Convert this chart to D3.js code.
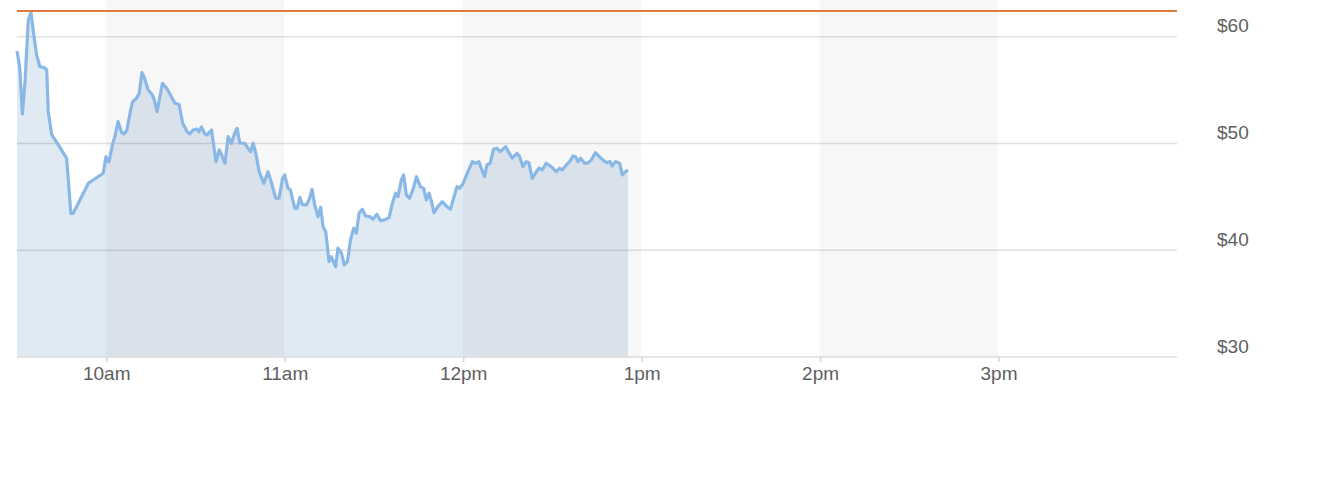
<!DOCTYPE html>
<html>
<head>
<meta charset="utf-8">
<script src="https://cdn.jsdelivr.net/npm/d3@7"></script>
<style>
  html, body { margin: 0; padding: 0; background: #fff; }
  svg { display: block; font-family: "Liberation Sans", Arial, Helvetica, sans-serif; }
</style>
</head>
<body>
<svg id="chart" width="1337" height="496"></svg>
<script>
// ---- data ----
// minutes after the 9:30 open
const minutes = [0,0.9,1.8,2.7,3.8,4.7,5.5,6.6,7.7,9.2,10.0,10.5,11.7,13.9,16.7,18.1,18.9,24.0,29.0,29.9,30.9,32.2,32.9,34.0,35.2,35.9,36.9,38.2,38.9,40.2,41.1,42.0,42.7,44.1,45.3,46.0,47.1,48.9,50.3,51.6,53.1,54.5,55.7,57.2,58.1,59.2,60.4,61.2,62.0,63.2,63.9,65.4,66.9,68.0,68.8,69.9,71.0,72.1,73.2,74.0,74.9,76.6,77.7,78.5,79.4,80.3,81.4,83.0,84.4,85.6,87.0,88.1,89.3,90.0,91.1,91.9,93.4,94.2,95.1,96.0,97.3,98.3,99.2,100.1,101.2,102.1,102.9,103.8,104.9,105.7,107.1,107.9,109.1,110.0,111.1,112.1,113.2,114.1,115.0,116.1,117.2,118.6,119.7,121.0,122.2,123.6,125.1,126.2,127.3,128.1,129.2,130.0,130.9,132.0,133.1,134.3,135.6,136.7,137.6,138.5,139.3,140.2,141.5,143.0,144.3,145.7,146.8,147.9,148.8,149.9,151.6,153.1,154.2,155.3,156.1,157.2,158.0,159.1,160.2,161.3,162.5,164.3,165.4,166.5,168.1,169.0,170.1,171.2,172.1,173.2,174.3,175.5,176.6,177.9,179.6,181.3,182.4,183.3,184.7,185.8,186.9,187.8,188.6,189.5,190.8,191.9,193.1,194.5,195.8,197.2,198.3,199.4,200.1,201.2,202.6,203.5,204.6,205.4];
const prices = [58.66,57.19,52.76,55.79,61.56,62.28,60.47,58.29,57.19,57.10,56.88,52.98,50.80,49.86,48.61,43.46,43.46,46.27,47.21,48.76,48.27,50.02,50.64,52.04,51.01,50.89,51.20,53.14,53.91,54.23,54.70,56.63,56.25,55.01,54.63,54.23,52.98,55.64,55.17,54.54,53.76,53.65,51.89,51.10,50.89,51.26,51.36,51.10,51.54,50.89,50.80,51.26,48.30,49.39,48.92,48.15,50.64,50.02,50.96,51.42,50.02,50.02,49.55,49.23,50.02,49.08,47.36,46.27,47.36,46.27,44.87,44.87,46.74,47.05,45.81,45.65,43.93,43.93,44.94,44.24,44.24,44.80,45.71,44.24,43.15,44.03,42.21,41.74,38.93,39.40,38.46,40.19,39.72,38.62,38.93,40.96,42.06,41.59,43.46,43.84,43.21,43.15,42.90,43.37,42.77,42.84,43.05,44.40,45.34,45.02,46.58,47.05,45.18,44.87,45.65,46.89,45.96,45.81,44.71,45.34,44.64,43.52,44.08,44.55,44.15,43.84,44.87,45.96,45.81,46.21,47.36,48.30,48.15,48.30,47.68,46.89,47.99,48.15,49.46,49.55,49.23,49.70,49.14,48.64,49.08,48.76,47.83,48.30,48.20,46.74,47.21,47.68,47.52,48.15,47.83,47.36,47.68,47.52,47.99,48.30,48.83,48.76,48.30,48.61,48.15,48.15,48.46,49.14,48.76,48.39,48.20,48.30,47.89,48.30,48.15,47.05,47.36,47.52];
const previousClose = 62.4;
const yTicks = [30, 40, 50, 60];
const yTickLabels = ["$30", "$40", "$50", "$60"];
const xTickHours = [10, 11, 12, 13, 14, 15];
const xTickLabels = ["10am", "11am", "12pm", "1pm", "2pm", "3pm"];
const bandHours = [[10, 11], [12, 13], [14, 15]];

// ---- setup ----
const day = (h, m) => new Date(2020, 0, 2, h, m || 0, 0);
const openTime = day(9, 30);
const data = minutes.map((m, i) => ({ t: new Date(openTime.getTime() + m * 60000), v: prices[i] }));

const svg = d3.select("#chart");
const plotLeft = 17, plotRight = 1177, plotBottom = 357, plotTop = 0;

const x = d3.scaleTime().domain([day(9, 30), day(16, 0)]).range([plotLeft, plotRight]);
const y = d3.scaleLinear().domain([30, 60]).range([plotBottom, 36.7]);

// area fill
svg.append("path")
  .datum(data)
  .attr("fill", "#e0eaf3")
  .attr("d", d3.area().x(d => x(d.t)).y0(plotBottom).y1(d => y(d.v)));

// alternating hour bands
svg.append("g").selectAll("rect")
  .data(bandHours)
  .join("rect")
  .attr("x", d => x(day(d[0])) - 0.5)
  .attr("width", d => x(day(d[1])) - x(day(d[0])))
  .attr("y", plotTop)
  .attr("height", plotBottom - plotTop)
  .attr("fill", "rgba(0,0,0,0.03)");

// grid lines
svg.append("g").selectAll("line")
  .data(yTicks.filter(v => v !== 30))
  .join("line")
  .attr("x1", plotLeft).attr("x2", plotRight)
  .attr("y1", d => y(d)).attr("y2", d => y(d))
  .attr("stroke", "rgba(0,0,0,0.12)")
  .attr("stroke-width", 1.5);

// bottom axis
const xAxis = d3.axisBottom(x)
  .tickValues(xTickHours.map(h => day(h)))
  .tickFormat((d, i) => xTickLabels[i])
  .tickSize(5)
  .tickPadding(8);
const gx = svg.append("g").attr("transform", `translate(0,${plotBottom})`).call(xAxis);
gx.select(".domain").attr("stroke", "#dcdcdc").attr("stroke-width", 1.5)
  .attr("d", `M${plotLeft},0H${plotRight}`);
gx.selectAll(".tick line").attr("stroke", "#ccd6eb").attr("stroke-width", 1.5);
gx.selectAll(".tick text")
  .attr("fill", "#606060")
  .attr("font-size", "19px")
  .attr("font-family", "'Liberation Sans', Arial, sans-serif")
  .attr("dy", "0")
  .attr("y", 23);

// right axis labels (above grid lines)
const yAxis = d3.axisRight(y)
  .tickValues(yTicks)
  .tickFormat((d, i) => yTickLabels[i])
  .tickSize(0)
  .tickPadding(0);
const gy = svg.append("g").attr("transform", `translate(1217,0)`).call(yAxis);
gy.select(".domain").remove();
gy.selectAll(".tick text")
  .attr("fill", "#606060")
  .attr("font-size", "19px")
  .attr("font-family", "'Liberation Sans', Arial, sans-serif")
  .attr("x", 0)
  .attr("dy", "0")
  .attr("y", -5);

// price line
svg.append("path")
  .datum(data)
  .attr("fill", "none")
  .attr("stroke", "#8ab8e6")
  .attr("stroke-width", 3.2)
  .attr("stroke-linejoin", "round")
  .attr("d", d3.line().x(d => x(d.t)).y(d => y(d.v)));

// previous close line
svg.append("line")
  .attr("x1", plotLeft).attr("x2", plotRight)
  .attr("y1", y(previousClose)).attr("y2", y(previousClose))
  .attr("stroke", "#e07b3c")
  .attr("stroke-width", 2);
</script>
</body>
</html>
